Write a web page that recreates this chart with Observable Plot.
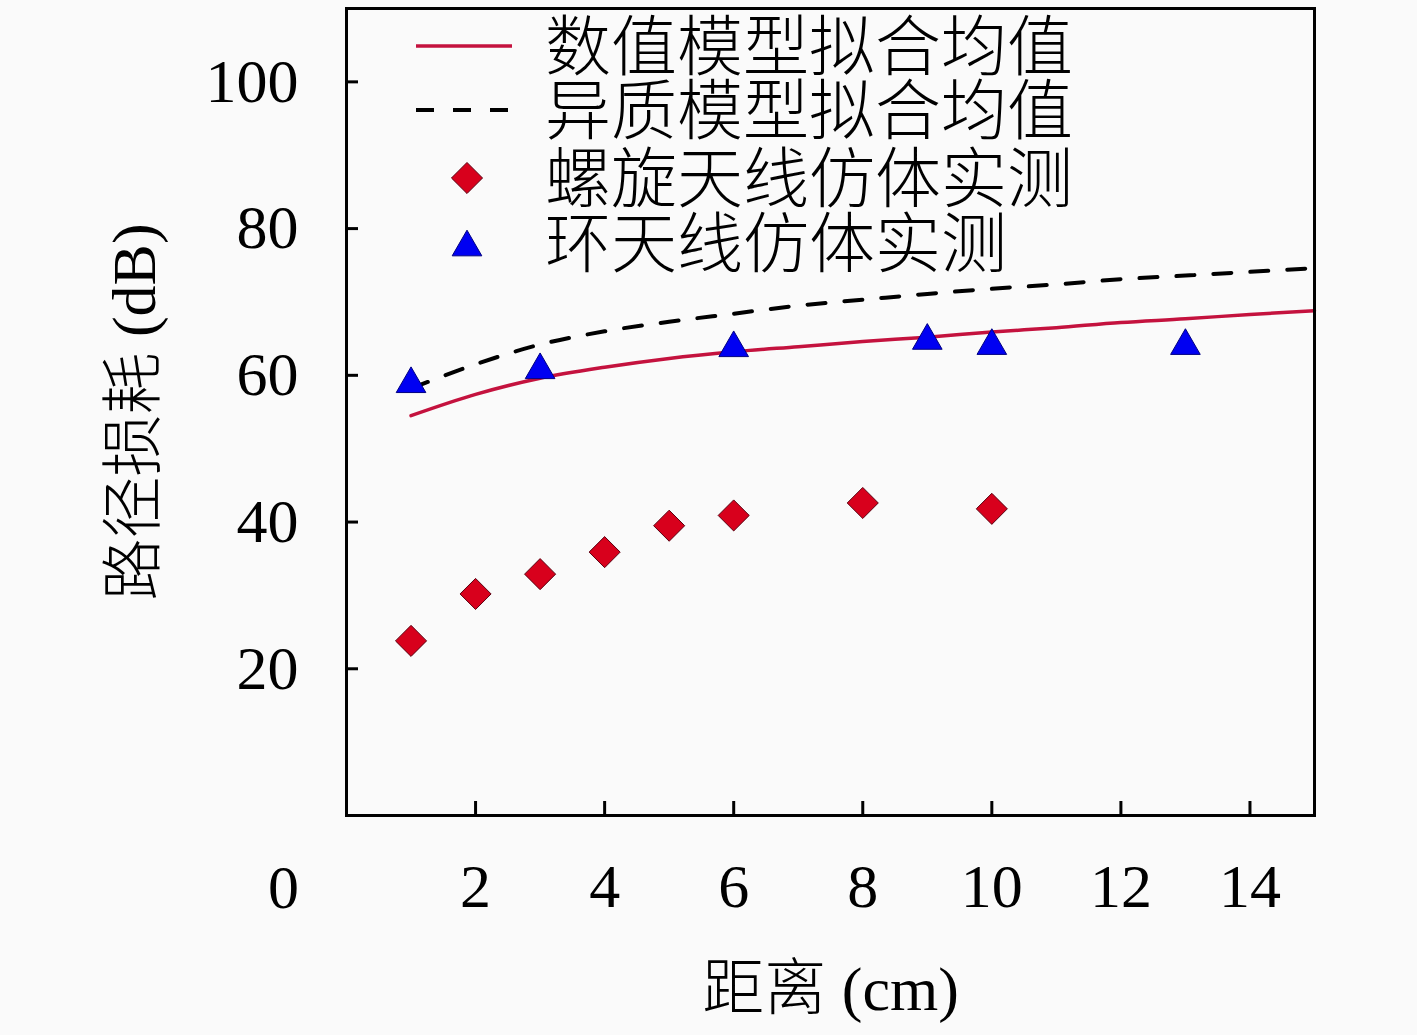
<!DOCTYPE html>
<html>
<head>
<meta charset="utf-8">
<script src="https://cdn.jsdelivr.net/npm/d3@7"></script>
<script src="https://cdn.jsdelivr.net/npm/@observablehq/plot@0.6"></script>
<style>
  html, body { margin: 0; padding: 0; background: #fafafa; }
</style>
</head>
<body>
<div id="chart"></div>
<script>
// ---- data ----
const fitX = [1, 2, 3, 4, 5, 6, 7, 8, 9, 10, 11, 12, 13, 14, 15];
const numericFit = [54.5, 57.4, 59.6, 61.1, 62.3, 63.2, 63.9, 64.6, 65.2, 65.9, 66.5, 67.2, 67.7, 68.3, 68.8];
const heteroFit  = [58.2, 61.5, 64.2, 66.0, 67.3, 68.4, 69.5, 70.3, 71.1, 71.8, 72.4, 73.1, 73.6, 74.1, 74.6];
const helixX = [1, 2, 3, 4, 5, 6, 8, 10];
const helixY = [23.8, 30.2, 32.9, 35.9, 39.5, 40.9, 42.6, 41.8];
const loopX = [1, 3, 6, 9, 10, 13];
const loopY = [59.4, 61.3, 64.3, 65.3, 64.6, 64.6];
const xTicks = [2, 4, 6, 8, 10, 12, 14];
const yTicks = [20, 40, 60, 80, 100];
const originLabel = ["0"];
const seriesNames = ["数值模型拟合均值", "异质模型拟合均值", "螺旋天线仿体实测", "环天线仿体实测"];
const xLabel = "距离 (cm)";
const yLabel = "路径损耗 (dB)";

// ---- styling ----
const FONT = '"Liberation Serif", "Noto Sans CJK SC", serif';
const RED_LINE = "#c4123e";
const RED_FILL = "#d8001c";
const BLUE_FILL = "#0000f2";

const numericData = fitX.map((x, i) => ({x, y: numericFit[i]}));
const heteroData = fitX.map((x, i) => ({x, y: heteroFit[i]}));
const helixData = helixX.map((x, i) => ({x, y: helixY[i]}));
const loopData = loopX.map((x, i) => ({x, y: loopY[i]}));

const DIAMOND_R = 14;
const TRI_R = 11;
const triShift = Math.sqrt(Math.PI * TRI_R * TRI_R / (3 * Math.sqrt(3))) / 2;

function legend(index, scales, values, dims) {
  const g = d3.create("svg:g")
    .attr("font-family", FONT)
    .attr("font-size", 66)
    .attr("font-weight", 300)
    .attr("text-anchor", "start");
  const x0 = dims.marginLeft, y0 = dims.marginTop;
  const rows = [38, 102, 170, 235];
  const lineX1 = 70, lineX2 = 166, symX = 121, textX = 199;
  seriesNames.forEach((name, i) => {
    const cy = y0 + rows[i];
    if (i === 0) {
      g.append("line").attr("x1", x0 + lineX1).attr("x2", x0 + lineX2)
        .attr("y1", cy).attr("y2", cy)
        .attr("stroke", RED_LINE).attr("stroke-width", 3.5);
    } else if (i === 1) {
      g.append("line").attr("x1", x0 + lineX1).attr("x2", x0 + lineX2)
        .attr("y1", cy).attr("y2", cy)
        .attr("stroke", "black").attr("stroke-width", 4)
        .attr("stroke-dasharray", "18,19");
    } else if (i === 2) {
      g.append("path")
        .attr("d", d3.symbol(d3.symbolDiamond2, Math.PI * DIAMOND_R * DIAMOND_R)())
        .attr("transform", `translate(${x0 + symX},${cy})`)
        .attr("fill", RED_FILL).attr("stroke", "#5a0010").attr("stroke-width", 1);
    } else {
      g.append("path")
        .attr("d", d3.symbol(d3.symbolTriangle, Math.PI * TRI_R * TRI_R)())
        .attr("transform", `translate(${x0 + symX},${cy + triShift})`)
        .attr("fill", BLUE_FILL).attr("stroke", "#000080").attr("stroke-width", 1);
    }
    g.append("text").attr("x", x0 + textX).attr("y", cy).attr("dy", "0.36em")
      .attr("text-anchor", "start")
      .attr("fill", "black").text(name);
  });
  return g.node();
}

const chart = Plot.plot({
  width: 1417,
  height: 1035,
  marginLeft: 346,
  marginRight: 103,
  marginTop: 8,
  marginBottom: 220,
  style: {background: "#fafafa", fontFamily: FONT, fontSize: "62px", color: "black"},
  x: {domain: [0, 15]},
  y: {domain: [0, 110]},
  marks: [
    // inward ticks
    Plot.axisX(xTicks, {tickSize: 14, dy: -14, strokeWidth: 3, tickFormat: () => "", label: null}),
    Plot.axisY(yTicks, {tickSize: 12, dx: 12, strokeWidth: 3, tickFormat: () => "", label: null}),
    // tick labels
    Plot.axisX(xTicks, {tickSize: 0, tickPadding: 47, fontSize: 62, label: null}),
    Plot.axisY(yTicks, {tickSize: 0, tickPadding: 48, fontSize: 62, label: null}),
    Plot.text(originLabel, {x: () => 0, y: () => 0, text: d => d, dx: -63, dy: 73, fontSize: 62}),
    // axis titles
    Plot.text([xLabel], {frameAnchor: "bottom", dy: 175, lineAnchor: "middle", textAnchor: "middle", text: d => d, fontSize: 62, fontWeight: 300}),
    Plot.text([yLabel], {frameAnchor: "left", dx: -211, rotate: -90, lineAnchor: "middle", textAnchor: "middle", text: d => d, fontSize: 62, fontWeight: 300}),
    // fit lines
    Plot.line(numericData, {x: "x", y: "y", stroke: RED_LINE, strokeWidth: 3.5, curve: "monotone-x"}),
    Plot.line(heteroData, {x: "x", y: "y", stroke: "black", strokeWidth: 4, strokeDasharray: "18,19", curve: "monotone-x"}),
    // measurements
    Plot.dot(helixData, {x: "x", y: "y", symbol: "diamond2", r: DIAMOND_R, fill: RED_FILL, stroke: "#5a0010", strokeWidth: 1}),
    Plot.dot(loopData, {x: "x", y: "y", symbol: "triangle", r: TRI_R, dy: triShift, fill: BLUE_FILL, stroke: "#000080", strokeWidth: 1}),
    legend,
    Plot.frame({stroke: "black", strokeWidth: 3})
  ]
});
document.getElementById("chart").append(chart);
</script>
</body>
</html>
